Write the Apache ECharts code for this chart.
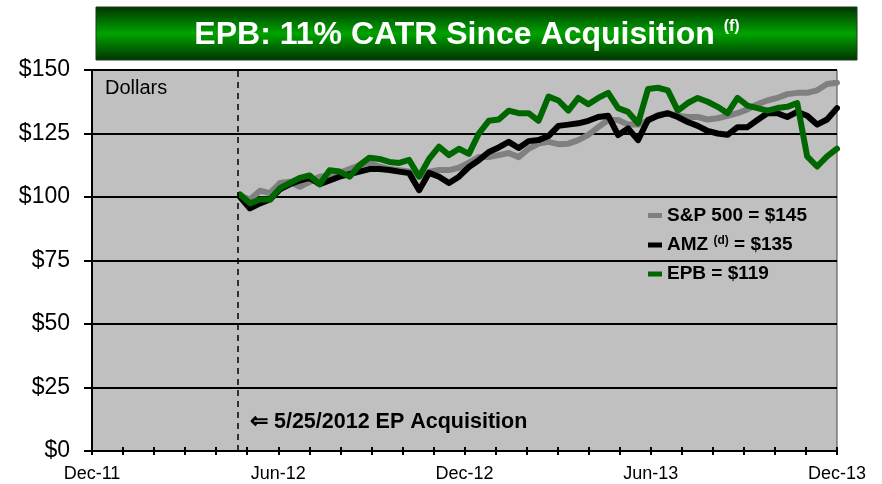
<!DOCTYPE html>
<html>
<head>
<meta charset="utf-8">
<script src="https://cdn.jsdelivr.net/npm/echarts@6/dist/echarts.min.js"></script>
<style>
  html, body { margin: 0; padding: 0; background: #fff; }
  #chart { width: 882px; height: 484px; }
</style>
</head>
<body>
<div id="chart"></div>
<script>
// x axis: months since Dec-11, labelled every 6 months
const monthLabels = ['Dec-11', 'Jun-12', 'Dec-12', 'Jun-13', 'Dec-13']
const yTicks = [0, 25, 50, 75, 100, 125, 150]

// acquisition marker and first data point, in months on the axis
const acquisitionMonth = 4.68
const startMonth = 4.77
const stepMonth = 0.3205

const sp500 = [
  100.5, 99, 102.5, 101.5, 105.5, 106, 104, 106, 108, 108.5,
  109.5, 111, 112.5, 113.5, 112, 111, 110.5, 110, 108.5, 110,
  110.6, 110.6, 111.5, 113.5, 115.7, 115.7, 116.5, 117.3, 115.7, 119,
  121, 121.7, 120.8, 121, 122.4, 124.5, 127.5, 130.3, 130.3, 128.5,
  128.5, 130, 132.3, 133, 132, 131.5, 131.5, 130.5, 131, 132,
  133, 134.5, 136.5, 138, 139, 140.5, 141, 141, 142, 144.5, 145
]
const amz = [
  100, 95.5, 97.5, 99, 103, 105, 106.5, 107.5, 105, 106.5,
  108, 109, 110, 111, 111, 110.6, 110, 109.4, 102.7, 109.5,
  108, 105.5, 108, 111.8, 114.5, 117.7, 119.5, 121.7, 119.3, 122,
  122.4, 124, 128, 128.5, 129, 130, 131.5, 132, 124.4, 127,
  122.4, 130.3, 132, 133, 131.5, 129.5, 128, 126, 125, 124.5,
  127.5, 127.5, 130.3, 133, 133, 131.5, 133.5, 132, 128.5, 130.5, 135
]
const epb = [
  101, 97.5, 99, 99, 103.5, 105.5, 107.5, 108.5, 105, 110.5,
  110, 108, 112.5, 115.5, 115, 113.8, 113.4, 114.6, 108, 115,
  119.8, 116.5, 119, 117, 125, 130, 130.5, 134, 133, 133,
  130, 139.5, 138, 134, 139, 136.5, 139, 141, 135, 133.5,
  129, 142.5, 143, 142, 134, 137, 139, 137.5, 135.5, 133,
  139, 136, 135, 134, 135, 135.5, 137, 116, 112, 116, 119
]

const seriesNames = ['S&P 500', 'AMZ', 'EPB']
const seriesColors = ['#808080', '#000000', '#006600']
const legendLabels = {
  'S&P 500': 'S&P 500 = $145',
  'AMZ': 'AMZ {sup|(d)} = $135',
  'EPB': 'EPB = $119'
}

function pairs(values) {
  return values.map((v, i) => [startMonth + i * stepMonth, v])
}

const chart = echarts.init(document.getElementById('chart'))

const font = 'Arial, "Liberation Sans", sans-serif'

const xBase = {
  type: 'value',
  min: 0,
  max: 24,
  interval: 1,
  splitLine: { show: false }
}

chart.setOption({
  animation: false,
  grid: {
    left: 92, right: 45, top: 70, bottom: 33,
    show: true,
    backgroundColor: '#c0c0c0',
    borderColor: '#444',
    borderWidth: 1
  },
  xAxis: [{
    ...xBase,
    axisLine: { lineStyle: { color: '#000', width: 2 } },
    axisTick: { length: 4, lineStyle: { color: '#000', width: 2 } },
    axisLabel: {
      margin: 14,
      color: '#000',
      fontSize: 18,
      fontFamily: font,
      showMinLabel: true,
      showMaxLabel: true,
      formatter: (v) => (v % 6 === 0 ? monthLabels[v / 6] : '')
    }
  }, {
    // inner half of the ticks, so they cross the axis line
    ...xBase,
    position: 'bottom',
    axisLine: { show: false },
    axisTick: { inside: true, length: 4, lineStyle: { color: '#000', width: 2 } },
    axisLabel: { show: false }
  }],
  yAxis: {
    type: 'value',
    min: yTicks[0],
    max: yTicks[yTicks.length - 1],
    interval: 25,
    axisLine: { show: true, lineStyle: { color: '#000', width: 2 } },
    axisTick: { show: true, length: 8, lineStyle: { color: '#000', width: 2 } },
    splitLine: { lineStyle: { color: '#000', width: 2 } },
    axisLabel: {
      margin: 22,
      color: '#000',
      fontSize: 23,
      fontFamily: font,
      formatter: (v) => '$' + v
    }
  },
  legend: {
    data: seriesNames,
    orient: 'vertical',
    left: 643,
    top: 201,
    icon: 'rect',
    itemWidth: 14,
    itemHeight: 5,
    itemGap: 10,
    formatter: (name) => legendLabels[name],
    textStyle: {
      color: '#000',
      fontSize: 19,
      fontWeight: 'bold',
      fontFamily: font,
      rich: {
        sup: { fontSize: 12, fontWeight: 'bold', fontFamily: font, verticalAlign: 'top', padding: [0, 0, 8, 0] }
      }
    }
  },
  series: [sp500, amz, epb].map((vals, i) => ({
    name: seriesNames[i],
    type: 'line',
    data: pairs(vals),
    color: seriesColors[i],
    showSymbol: false,
    symbol: 'none',
    lineStyle: { width: 6, color: seriesColors[i], join: 'round', cap: 'round' },
    z: 2 + i,
    markLine: i === 0 ? {
      silent: true,
      symbol: 'none',
      label: { show: false },
      lineStyle: { color: '#000', type: [6, 5], width: 1.5 },
      data: [{ xAxis: acquisitionMonth }]
    } : undefined
  })),
  graphic: [
    {
      type: 'rect',
      shape: { x: 96, y: 7, width: 761, height: 53 },
      style: {
        fill: new echarts.graphic.LinearGradient(0, 0, 0, 1, [
          { offset: 0, color: '#003300' },
          { offset: 0.5, color: '#00a300' },
          { offset: 1, color: '#003300' }
        ]),
        stroke: '#1e3a1e',
        lineWidth: 1
      }
    },
    {
      type: 'text',
      x: 467,
      y: 35,
      style: {
        text: '{t|EPB: 11% CATR Since Acquisition }{s|(f)}',
        align: 'center',
        verticalAlign: 'middle',
        rich: {
          t: { fontSize: 32, fontWeight: 'bold', fill: '#fff', fontFamily: font },
          s: { fontSize: 16, fontWeight: 'bold', fill: '#fff', fontFamily: font, verticalAlign: 'top', padding: [0, 0, 14, 0] }
        }
      }
    },
    {
      type: 'text',
      left: 105,
      top: 78,
      style: { text: 'Dollars', fontSize: 20, fontFamily: font, fill: '#000' }
    },
    {
      type: 'text',
      left: 250,
      top: 411,
      style: { text: '\u21d0 5/25/2012 EP Acquisition', fontSize: 21.5, fontWeight: 'bold', fontFamily: font, fill: '#000' }
    }
  ]
})
</script>
</body>
</html>
